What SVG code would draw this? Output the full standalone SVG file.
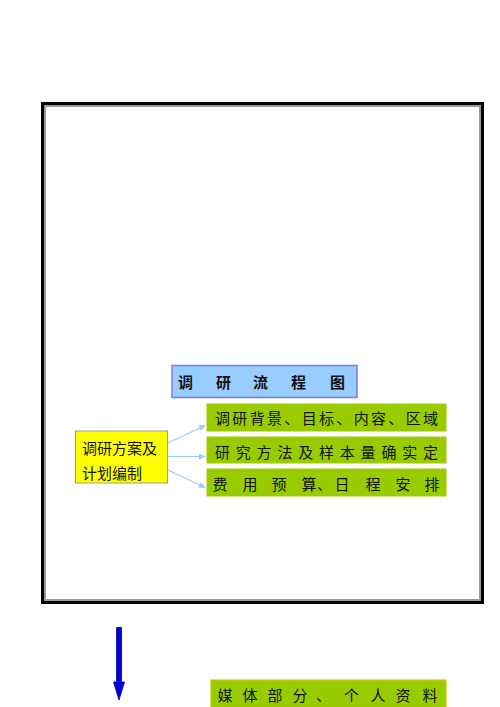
<svg xmlns="http://www.w3.org/2000/svg" width="500" height="707" viewBox="0 0 500 707">
<style>
.t{font-family:"Liberation Sans","Noto Sans CJK SC",sans-serif;font-size:15px;fill:#111}
.g{fill:#99CC00;stroke:#A6C800;stroke-width:1}
.c{stroke:#99CCFF;stroke-width:1.2;fill:none}
</style>
<defs>
<marker id="ah" markerWidth="7" markerHeight="6" refX="6" refY="3" orient="auto" markerUnits="userSpaceOnUse">
<path d="M0,0 L7,3 L0,6 Z" fill="#99CCFF"/>
</marker>
</defs>
<rect width="500" height="707" fill="#fff"/>
<g id="frame">
<rect x="42.5" y="103.5" width="440" height="499" fill="none" stroke="#000" stroke-width="3"/>
<rect x="45" y="106" width="435" height="494" fill="none" stroke="#999" stroke-width="2"/>
</g>
<g id="title">
<rect x="172" y="365.5" width="185" height="32" fill="#99CCFF" stroke="#7A7AEE" stroke-width="1.5"/>
<text class="t" y="388" font-size="16" font-weight="bold" x="178 216 253 291 330">调研流程图</text>
</g>
<g id="plan">
<rect x="75.5" y="431" width="92" height="52" fill="#FFFF00" stroke="#A0A080" stroke-width="1"/>
<text class="t" x="82" y="454">调研方案及</text>
<text class="t" x="82" y="479">计划编制</text>
</g>
<g id="item1">
<rect class="g" x="207" y="404" width="239" height="27"/>
<text class="t" x="215" y="424" textLength="223" lengthAdjust="spacing">调研背景、目标、内容、区域</text>
</g>
<g id="item2">
<rect class="g" x="207" y="437" width="239" height="26"/>
<text class="t" x="215" y="458" textLength="223" lengthAdjust="spacing">研究方法及样本量确实定</text>
</g>
<g id="item3">
<rect class="g" x="207" y="469" width="239" height="27"/>
<text class="t" y="490" x="212.5 242.5 271.5 301.5 317 334.5 365.5 395.5 424.5">费用预算、日程安排</text>
</g>
<g id="media">
<rect x="211" y="680" width="235" height="30" fill="#99CC00" stroke="#CCCC00" stroke-width="1.2"/>
<text class="t" y="701" x="217.5 242.5 267.5 292.5 316 344 370.5 395.5 422.5">媒体部分、个人资料</text>
</g>
<g id="connectors">
<line class="c" x1="168" y1="443" x2="205" y2="425.5" marker-end="url(#ah)"/>
<line class="c" x1="168" y1="456.5" x2="205" y2="456.5" marker-end="url(#ah)"/>
<line class="c" x1="168" y1="470" x2="205" y2="487.5" marker-end="url(#ah)"/>
<path d="M116.5,627.5 H121.5 V682 H124.5 L119,700 L113.5,682 H116.5 Z" fill="#0000DD" stroke="#000099" stroke-width="0.8"/>
</g>
</svg>
